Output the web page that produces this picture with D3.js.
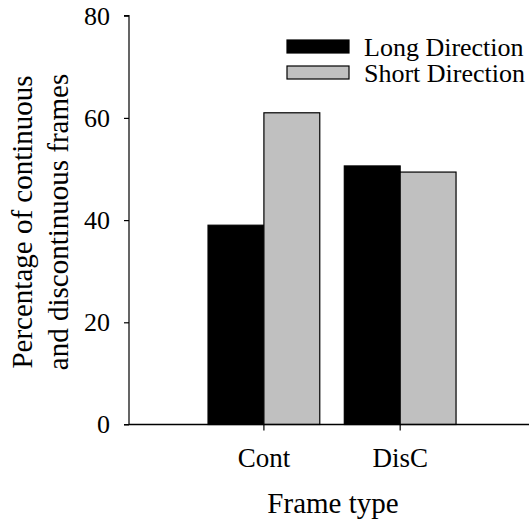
<!DOCTYPE html>
<html>
<head>
<meta charset="utf-8">
<script src="https://cdn.jsdelivr.net/npm/d3@7"></script>
<style>
  html, body { margin: 0; padding: 0; background: #fff; }
  svg { display: block; }
  text { font-family: "Liberation Serif", "Times New Roman", serif; fill: #000; }
</style>
</head>
<body>
<svg id="chart" width="529" height="524"></svg>
<script>
// Frame type categories and the share of each direction (%)
const categories = ["Cont", "DisC"];
const seriesNames = ["Long Direction", "Short Direction"];
const longDirection = [39.0, 50.6];
const shortDirection = [61.0, 49.4];
const yTicks = [0, 20, 40, 60, 80];
const seriesColors = ["#000000", "#c0c0c0"];

const rows = categories.map((c, i) => ({
  category: c,
  values: [
    { series: seriesNames[0], value: longDirection[i] },
    { series: seriesNames[1], value: shortDirection[i] }
  ]
}));

const svg = d3.select("#chart");
const fontSize = 26;
const titleSize = 29;
const serif = "'Liberation Serif', 'Times New Roman', serif";

const plotLeft = 129, plotRight = 529, plotTop = 15.7, plotBottom = 424.5;

const x = d3.scaleBand()
  .domain(categories)
  .range([plotLeft, plotRight])
  .paddingInner(0.18)
  .paddingOuter(0.5577)
  .align(0.52);

const xSub = d3.scaleBand()
  .domain(seriesNames)
  .range([0, x.bandwidth()])
  .padding(0);

const y = d3.scaleLinear().domain([0, 80]).range([plotBottom, plotTop]);

const color = d3.scaleOrdinal().domain(seriesNames).range(seriesColors);

// bars
const groups = svg.append("g")
  .selectAll("g")
  .data(rows)
  .join("g")
  .attr("transform", d => `translate(${x(d.category)},0)`);

groups.selectAll("rect")
  .data(d => d.values)
  .join("rect")
  .attr("x", d => xSub(d.series))
  .attr("y", d => y(d.value))
  .attr("width", xSub.bandwidth())
  .attr("height", d => y(0) - y(d.value))
  .attr("fill", d => color(d.series))
  .attr("stroke", "#000")
  .attr("stroke-width", 1.2);

// y axis
const yAxis = svg.append("g")
  .attr("transform", `translate(${plotLeft},0)`)
  .call(d3.axisLeft(y).tickValues(yTicks).tickSize(5).tickPadding(14).tickFormat(d3.format("d")));
yAxis.select(".domain").attr("stroke", "#000").attr("stroke-width", 1.2)
  .attr("d", `M${-5},${plotTop}H0V${plotBottom}H${-5}`);
yAxis.selectAll(".tick line").attr("stroke", "#000").attr("stroke-width", 1.2);
yAxis.selectAll(".tick text")
  .style("font-family", serif)
  .style("font-size", fontSize + "px")
  .attr("fill", "#000");

// x axis
const xAxis = svg.append("g")
  .attr("transform", `translate(0,${plotBottom})`)
  .call(d3.axisBottom(x).tickSize(6).tickPadding(17).tickSizeOuter(0));
xAxis.select(".domain").attr("stroke", "#000").attr("stroke-width", 1.4)
  .attr("d", `M${plotLeft},0H${plotRight}`);
xAxis.selectAll(".tick line").attr("stroke", "#000").attr("stroke-width", 1.2);
xAxis.selectAll(".tick text")
  .style("font-family", serif)
  .style("font-size", (fontSize + 1) + "px")
  .attr("fill", "#000");

// axis titles
svg.append("text")
  .attr("x", 333)
  .attr("y", 513)
  .attr("text-anchor", "middle")
  .style("font-family", serif)
  .style("font-size", titleSize + "px")
  .text("Frame type");

const yTitle = svg.append("text")
  .attr("transform", "translate(0,222) rotate(-90)")
  .attr("text-anchor", "middle")
  .style("font-family", serif)
  .style("font-size", titleSize + "px");
yTitle.append("tspan").attr("x", 0).attr("y", 32).text("Percentage of continuous");
yTitle.append("tspan").attr("x", 0).attr("y", 68).text("and discontinuous frames");

// legend
const legend = svg.append("g")
  .selectAll("g")
  .data(seriesNames)
  .join("g")
  .attr("transform", (d, i) => `translate(287,${40 + i * 26})`);

legend.append("rect")
  .attr("width", 62)
  .attr("height", 13)
  .attr("fill", d => color(d))
  .attr("stroke", "#000")
  .attr("stroke-width", 1.2);

legend.append("text")
  .attr("x", 77)
  .attr("y", 6.5)
  .attr("dy", "0.35em")
  .style("font-family", serif)
  .style("font-size", fontSize + "px")
  .text(d => d);
</script>
</body>
</html>
